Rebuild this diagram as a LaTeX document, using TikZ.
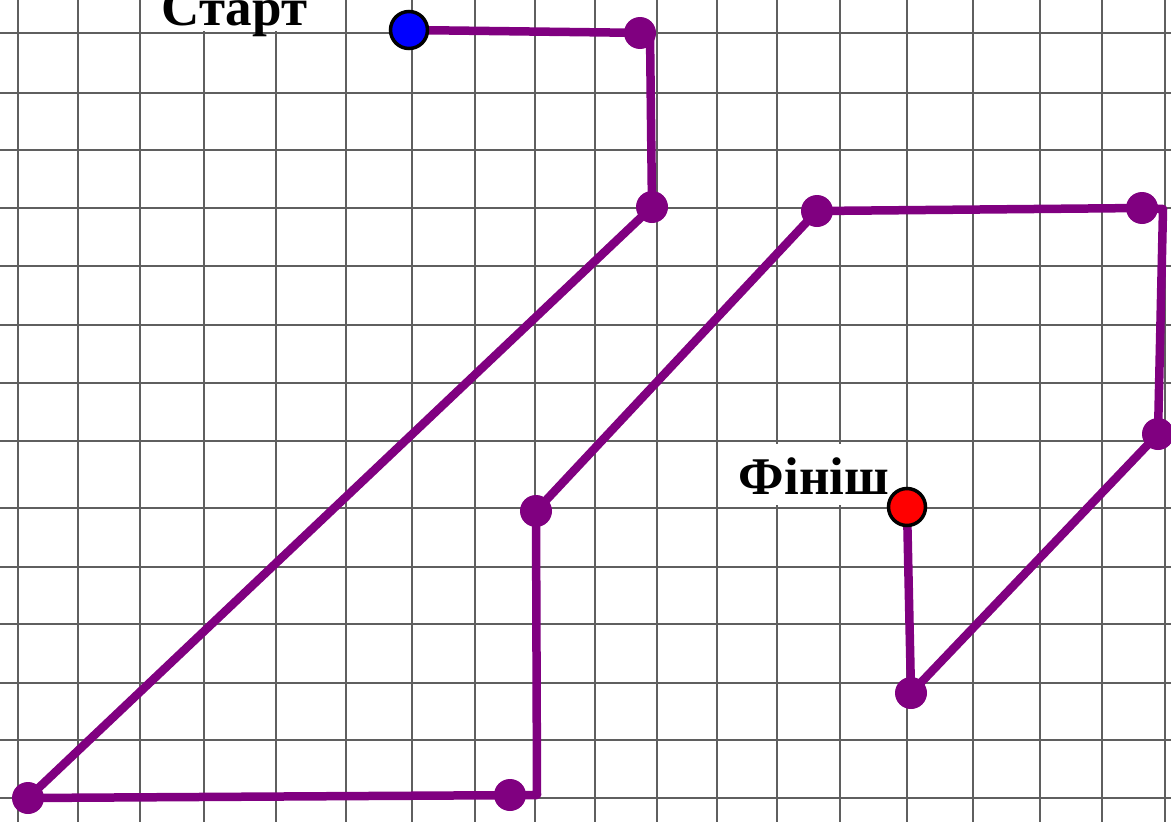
\documentclass[tikz,border=0pt]{standalone}
\usepackage{fontspec}
\setmainfont{Liberation Serif}
\definecolor{pathpurple}{RGB}{128,0,128}
\definecolor{gridgray}{RGB}{95,95,95}
\tikzset{
  gridline/.style={draw=gridgray, line width=1.8pt},
  route/.style={draw=pathpurple, line width=8.5pt, line join=round},
  waydot/.style={circle, fill=pathpurple, minimum size=32pt, inner sep=0pt},
  startdot/.style={circle, fill=blue, draw=black, line width=3.5pt, minimum size=37pt, inner sep=0pt},
  finishdot/.style={circle, fill=red, draw=black, line width=3.5pt, minimum size=37pt, inner sep=0pt},
  lbl/.style={font=\bfseries\fontsize{53}{63}\selectfont, inner sep=0pt, anchor=base}
}
\begin{document}
\begin{tikzpicture}[x=1pt, y=-1pt]
\useasboundingbox (0,0) rectangle (1171,822);
\fill[white] (0,0) rectangle (1171,822);
% grid
\foreach \gx in {18,78,140,204,276,346,412,475,535,595,657,717,777,840,907,973,1040,1102,1165}
  \draw[gridline] (\gx,0) -- (\gx,822);
\foreach \gy in {33,93,150,208,266,325,383,441,508,567,624,683,740,798}
  \draw[gridline] (0,\gy) -- (1171,\gy);
% label backgrounds
\fill[white] (150,-5) rectangle (322,31);
\fill[white] (722,444) rectangle (900,505);
% points
\coordinate (s) at (409,30);
\coordinate (p1) at (640,33);
\coordinate (c0) at (650,33);
\coordinate (p2) at (652,207);
\coordinate (p3) at (28,798);
\coordinate (p4) at (510,795);
\coordinate (c1) at (537,795);
\coordinate (p5) at (536,511);
\coordinate (p6) at (817,211);
\coordinate (p7) at (1142,208);
\coordinate (c2) at (1163,209);
\coordinate (p8) at (1158,434);
\coordinate (p9) at (911,693);
\coordinate (f) at (907,507);
% route
\draw[route] (s) -- (c0) -- (p2) -- (p3) -- (c1) -- (p5) -- (p6) -- (p7) -- (c2) -- (p8) -- (p9) -- (f);
% dots
\foreach \p in {p1,p2,p3,p4,p5,p6,p7,p8,p9}
  \node[waydot] (d\p) at (\p) {};
\node[startdot] (ds) at (s) {};
\node[finishdot] (df) at (f) {};
% labels
\node[lbl] (tstart) at (234.5,25) {Старт};
\node[lbl] (tfinish) at (814,494) {Фініш};
\end{tikzpicture}
\end{document}
